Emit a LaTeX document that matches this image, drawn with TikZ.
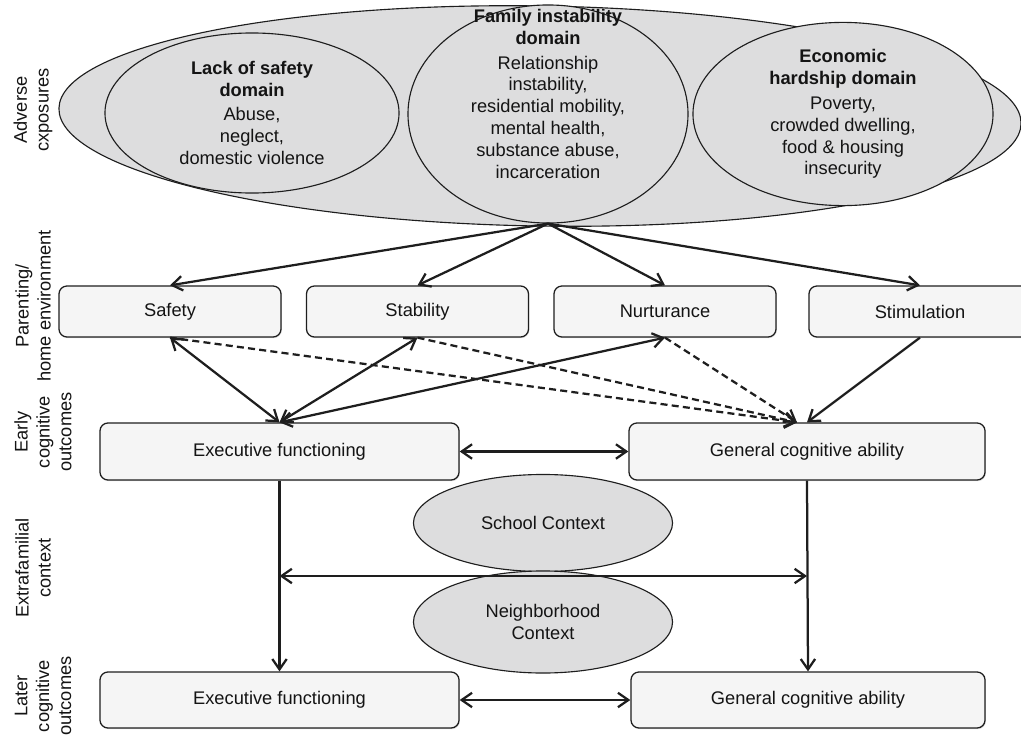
\documentclass[tikz,border=0pt]{standalone}
\usepackage{fontspec}
\setmainfont{Liberation Sans}
\usetikzlibrary{shapes.geometric,arrows.meta,calc,shadows}
\definecolor{ellfill}{RGB}{221,221,222}
\definecolor{boxfill}{RGB}{245,245,245}
\definecolor{linec}{RGB}{30,30,30}
\definecolor{txtc}{RGB}{20,20,20}
\begin{document}
\begin{tikzpicture}[x=0.025cm,y=-0.025cm,
  font=\fontsize{13}{15.6}\selectfont, text=txtc,
  ell/.style={ellipse, draw=linec, line width=0.8pt, fill=ellfill, inner sep=0pt},
  box/.style={draw=linec, line width=0.9pt, fill=boxfill, rounded corners=0.2cm,
    drop shadow={opacity=0.25, shadow xshift=0.6pt, shadow yshift=-0.8pt}},
  rowtwo/.style={box, minimum width=5.55cm, minimum height=1.275cm},
  rowcog/.style={box, minimum height=1.425cm},
  side/.style={rotate=90, align=center},
  hd/.style={line width=1.6pt, draw=linec},
  arr/.style={hd, -{Straight Barb[length=2.6mm,width=3.6mm]}},
  darr/.style={hd, {Straight Barb[length=2.6mm,width=3.6mm]}-{Straight Barb[length=2.6mm,width=3.6mm]}},
  dsh/.style={arr, dash pattern=on 5pt off 3pt}
]
\useasboundingbox (0,0) rectangle (1021,737);

% ---- adverse exposures ----
\node[ell, minimum width=24.05cm, minimum height=5.5cm, rotate=-0.9] (big) at (540,116) {};
\node[ell, minimum width=7.35cm, minimum height=4.0cm, align=center] (safe) at (252,113)
  {\textbf{Lack of safety}\\\textbf{domain}\\[2pt]Abuse,\\neglect,\\domestic violence};
\node[ell, minimum width=7.5cm, minimum height=3.95cm, align=center] (econ) at (843,114)
  {\textbf{Economic}\\\textbf{hardship domain}\\[2pt]Poverty,\\crowded dwelling,\\food \& housing\\insecurity};
\node[ell, minimum width=7.0cm, minimum height=5.45cm] (fam) at (548,114) {};
\node[align=center] (famtxt) at (548,94)
  {\textbf{Family instability}\\\textbf{domain}\\[2pt]Relationship\\instability,\\residential mobility,\\mental health,\\substance abuse,\\incarceration};

% ---- side labels ----
\node[side] (l1) at (33,110) {Adverse\\cxposures};
\node[side] (l2) at (33,306) {Parenting/\\home environment};
\node[side] (l3) at (43,432) {Early\\cognitive\\outcomes};
\node[side] (l4) at (33,568) {Extrafamilial\\context};
\node[side] (l5) at (43,696) {Later\\cognitive\\outcomes};

% ---- parenting row ----
\node[rowtwo] (safety) at (170,311.5) {Safety};
\node[rowtwo] (stab) at (417.5,311.5) {Stability};
\node[rowtwo] (nurt) at (665,311.5) {Nurturance};
\node[rowtwo] (stim) at (920,311.5) {Stimulation};

% ---- early outcomes ----
\node[rowcog, minimum width=8.975cm] (ef) at (279.5,451.5) {Executive functioning};
\node[rowcog, minimum width=8.9cm] (gca) at (807,451.5) {General cognitive ability};

% ---- extrafamilial ----
\node[ell, minimum width=6.475cm, minimum height=2.425cm] (school) at (543,523) {School Context};
\node[ell, minimum width=6.475cm, minimum height=2.55cm, align=center] (neigh) at (543,622) {Neighborhood\\Context};

% ---- later outcomes ----
\node[rowcog, minimum width=8.975cm, minimum height=1.4cm] (ef2) at (279.5,700) {Executive functioning};
\node[rowcog, minimum width=8.85cm, minimum height=1.4cm] (gca2) at (808,700) {General cognitive ability};

% ---- connectors ----
\coordinate (hub) at (fam.south);
\draw[arr] (hub) -- (safety.north);
\draw[arr] (hub) -- (stab.north);
\draw[arr] (hub) -- (nurt.north);
\draw[arr] (hub) -- (stim.north);

\coordinate (gtop) at ($(gca.north)+(-10,0)$);
\draw[dsh] (safety.south) -- (gtop);
\draw[dsh] (stab.south) -- (gtop);
\draw[dsh] (nurt.south) -- (gtop);

\draw[darr] (safety.south) -- (ef.north);
\draw[darr] (stab.south) -- (ef.north);
\draw[darr] (nurt.south) -- (ef.north);
\draw[arr] (stim.south) -- (gca.north);

\draw[darr] (ef.east) -- (gca.west);

\draw[arr] (ef.south) -- (ef2.north);
\draw[arr] (gca.south) -- (gca2.north);
\coordinate (xl) at (ef.south |- 0,576);
\coordinate (xr) at (gca.south |- 0,576);
\draw[darr] (xl) -- (xr);

\draw[darr] (ef2.east) -- (gca2.west);
\end{tikzpicture}
\end{document}
